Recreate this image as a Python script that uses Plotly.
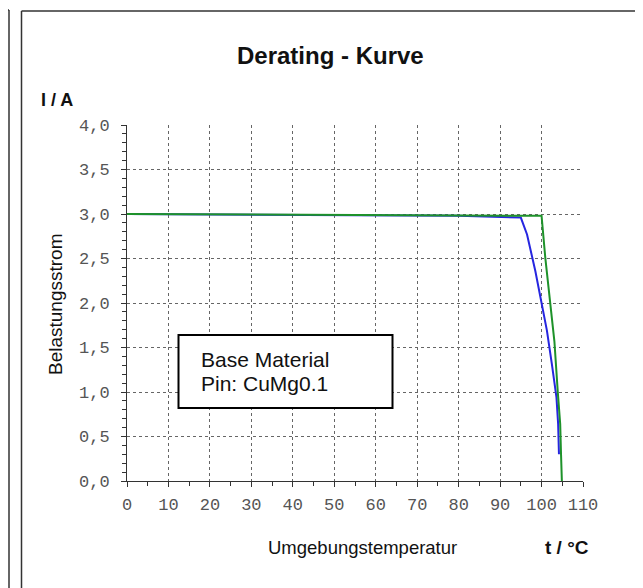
import plotly.graph_objects as go

# ---- data ----
blue_t = [0, 20, 40, 60, 80, 95, 96.5, 98.5, 99.7, 101.3, 102.5, 103.6, 104.0, 104.2]
blue_i = [3.0, 2.995, 2.99, 2.985, 2.98, 2.96, 2.77, 2.36, 2.06, 1.69, 1.31, 0.94, 0.64, 0.30]
green_t = [0, 20, 40, 60, 80, 100, 100.9, 102.1, 103.1, 103.9, 104.5, 104.7, 104.9]
green_i = [3.0, 2.995, 2.99, 2.985, 2.98, 2.98, 2.51, 2.02, 1.57, 1.01, 0.64, 0.30, 0.0]

x_ticks = [0, 10, 20, 30, 40, 50, 60, 70, 80, 90, 100, 110]
y_ticks = [0.0, 0.5, 1.0, 1.5, 2.0, 2.5, 3.0, 3.5, 4.0]
y_tick_labels = ["0,0", "0,5", "1,0", "1,5", "2,0", "2,5", "3,0", "3,5", "4,0"]

OFF = 8                      # page body margin
W, H = 643 - OFF, 588 - OFF  # figure size
L, R, T, B = 127, 583, 125, 481  # plot area in page pixels


def px(x):
    return (x - L) / (R - L)


def py(y):
    return (B - y) / (B - T)


fig = go.Figure()
fig.add_trace(go.Scatter(x=blue_t, y=blue_i, mode="lines",
                         line=dict(color="#2626e0", width=2), showlegend=False))
fig.add_trace(go.Scatter(x=green_t, y=green_i, mode="lines",
                         line=dict(color="#1e922a", width=2), showlegend=False))

tickfont = dict(family="Liberation Mono", size=17, color="#555555")

fig.update_xaxes(range=[0, 110], tickvals=x_ticks, ticktext=[str(v) for v in x_ticks],
                 showgrid=True, gridcolor="#666666", griddash="dot", gridwidth=1,
                 showline=True, linecolor="#333333", linewidth=1,
                 ticks="outside", ticklen=5, tickcolor="#333333",
                 minor=dict(dtick=5, ticks="outside", ticklen=4, tickcolor="#333333", showgrid=False),
                 tickfont=tickfont, zeroline=False, ticklabelstandoff=3)
fig.update_yaxes(range=[0, 4], tickvals=y_ticks, ticktext=y_tick_labels,
                 showgrid=True, gridcolor="#666666", griddash="dot", gridwidth=1,
                 showline=True, linecolor="#333333", linewidth=1,
                 ticks="outside", ticklen=5, tickcolor="#333333",
                 minor=dict(dtick=0.1, ticks="outside", ticklen=4, tickcolor="#333333", showgrid=False),
                 tickfont=tickfont, zeroline=False, ticklabelstandoff=8)

frame = dict(color="#333333", width=1.5)
shapes = [
    # left panel border
    dict(type="line", xref="paper", yref="paper", x0=px(9), x1=px(9), y0=py(10), y1=py(600), line=frame),
    dict(type="line", xref="paper", yref="paper", x0=px(0), x1=px(9), y0=py(10), y1=py(10), line=frame),
    # main frame
    dict(type="line", xref="paper", yref="paper", x0=px(21.5), x1=px(21.5), y0=py(11), y1=py(600), line=frame),
    dict(type="line", xref="paper", yref="paper", x0=px(21.5), x1=px(650), y0=py(11), y1=py(11), line=frame),
    dict(type="line", xref="paper", yref="paper", x0=px(642), x1=px(642), y0=py(11), y1=py(600),
         line=dict(color="#cccccc", width=1)),
    # text box
    dict(type="rect", xref="paper", yref="paper", x0=px(178.5), x1=px(392.5), y0=py(408), y1=py(335),
         line=dict(color="#000000", width=2), fillcolor="white"),
]


def ann(text, x, y, size, xanchor="center", angle=0):
    return dict(text=text, x=px(x), y=py(y), xref="paper", yref="paper", showarrow=False,
                xanchor=xanchor, yanchor="middle", textangle=angle,
                font=dict(family="Liberation Sans", size=size, color="#111111"))


annotations = [
    ann("<b>Derating - Kurve</b>", 330, 56, 24),
    ann("<b>I / A</b>", 39, 100, 18, xanchor="left"),
    ann("Belastungsstrom", 55, 304, 19, angle=-90),
    ann("Umgebungstemperatur", 362, 547, 18.5),
    ann("<b>t / °C</b>", 543, 547, 19, xanchor="left"),
    ann("Base Material", 199, 359, 21, xanchor="left"),
    ann("Pin: CuMg0.1", 199, 383, 21, xanchor="left"),
]

fig.update_layout(width=W, height=H,
                  margin=dict(l=L - OFF, r=W - (R - OFF), t=T - OFF, b=H - (B - OFF)),
                  paper_bgcolor="white", plot_bgcolor="white",
                  shapes=shapes, annotations=annotations, showlegend=False)

fig.write_html("out.html")
